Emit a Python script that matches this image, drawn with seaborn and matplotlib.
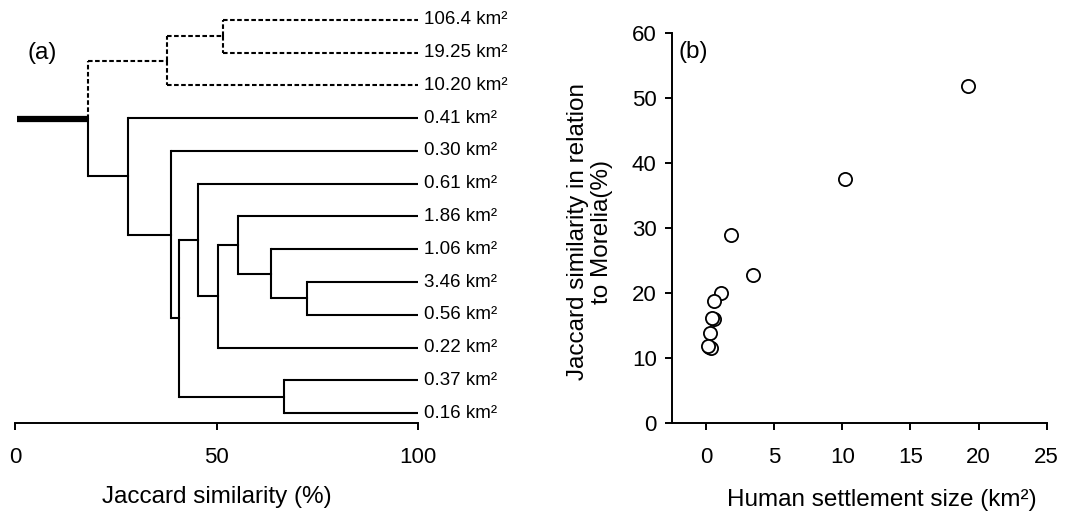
import numpy as np
import pandas as pd
import matplotlib
matplotlib.use("Agg")
import matplotlib.pyplot as plt
import seaborn as sns

# ---------------- Panel (a): dendrogram data ----------------
leaf_labels = ["106.4", "19.25", "10.20", "0.41", "0.30", "0.61", "1.86",
               "1.06", "3.46", "0.56", "0.22", "0.37", "0.16"]
# merges (node ids: leaves 0..12, merged nodes 13..24 in this order)
merge_a = [0, 13, 8, 7, 6, 17, 5, 11, 19, 4, 3, 14]
merge_b = [1, 2, 9, 15, 16, 10, 18, 12, 20, 21, 22, 23]
merge_sim = [51.5, 37.6, 72.5, 63.4, 55.4, 50.4, 45.3, 66.8, 40.7, 38.7, 28.0, 18.0]
dashed_members = [0, 1, 2, 13, 14]          # Morelia group (dashed links)
x_ticks_a = [0, 50, 100]

# ---------------- Panel (b): scatter data ----------------
settlement_size = [19.25, 10.20, 1.86, 3.46, 1.06, 0.61, 0.56, 0.41, 0.30, 0.22, 0.37, 0.16]
similarity_morelia = [51.8, 37.5, 28.9, 22.8, 20.0, 18.7, 16.0, 16.1, 13.8, 11.7, 11.6, 11.9]
x_ticks_b = [0, 5, 10, 15, 20, 25]
y_ticks_b = [0, 10, 20, 30, 40, 50, 60]

sns.set_theme(style="ticks")
plt.rcParams.update({
    "font.family": ["Liberation Sans", "DejaVu Sans"],
    "axes.edgecolor": "black",
    "xtick.color": "black",
    "ytick.color": "black",
    "text.color": "black",
    "axes.labelcolor": "black",
})

TICK_FS = 16
LABEL_FS = 17.5
LEAF_FS = 13.5

fig = plt.figure(figsize=(10.83, 5.14), dpi=100)
W, H = 1083, 514
ax1 = fig.add_axes([15 / W, 91 / H, 403 / W, 413 / H])
ax2 = fig.add_axes([672 / W, 91 / H, 374.7 / W, 390 / H])

# ---- build dendrogram coordinates ----
n = len(leaf_labels)
xpos = {i: 100.0 for i in range(n)}
ypos = {i: float(n - 1 - i) for i in range(n)}
for k, (a, b, s) in enumerate(zip(merge_a, merge_b, merge_sim)):
    node = n + k
    xpos[node] = s
    ypos[node] = (ypos[a] + ypos[b]) / 2.0

lw = 1.5
for k, (a, b, s) in enumerate(zip(merge_a, merge_b, merge_sim)):
    node = n + k
    for c in (a, b):
        ls = (0, (2.2, 1.2)) if c in dashed_members else "-"
        ax1.plot([xpos[node], xpos[c]], [ypos[c], ypos[c]], color="black",
                 lw=lw, linestyle=ls, solid_capstyle="butt", dash_capstyle="butt")
        ax1.plot([xpos[node], xpos[node]], [ypos[node], ypos[c]], color="black",
                 lw=lw, linestyle=ls, solid_capstyle="projecting", dash_capstyle="butt")

root = n + len(merge_sim) - 1
ax1.plot([0.4, xpos[root]], [ypos[root], ypos[root]], color="black", lw=4.5,
         solid_capstyle="butt")

for i, lab in enumerate(leaf_labels):
    ax1.text(101.5, ypos[i], lab + " km\u00b2", ha="left", va="center",
             fontsize=LEAF_FS, clip_on=False)

ax1.set_xlim(0, 100)
ax1.set_ylim(-0.305, 12.305)
ax1.set_xticks(x_ticks_a)
ax1.set_xticklabels([str(t) for t in x_ticks_a])
ax1.set_yticks([])
for sp in ("left", "top", "right"):
    ax1.spines[sp].set_visible(False)
ax1.spines["bottom"].set_linewidth(1.4)
ax1.tick_params(axis="x", direction="out", length=5, width=1.4, pad=12, labelsize=TICK_FS)
ax1.set_xlabel("Jaccard similarity (%)", fontsize=LABEL_FS, va="center")
ax1.xaxis.set_label_coords(0.5, -0.179)
ax1.text(0.067, 0.896, "(a)", transform=ax1.transAxes, ha="center", va="center",
         fontsize=LABEL_FS)
ax1.patch.set_alpha(0)

# ---- scatter ----
df = pd.DataFrame({"size": settlement_size, "sim": similarity_morelia})
sns.scatterplot(data=df, x="size", y="sim", ax=ax2, marker="o", s=90,
                color="white", edgecolor="black", linewidth=1.3, zorder=3,
                clip_on=False)
ax2.set_xlim(-2.5, 25)
ax2.set_ylim(0, 60)
ax2.set_xticks(x_ticks_b)
ax2.set_yticks(y_ticks_b)
for sp in ("top", "right"):
    ax2.spines[sp].set_visible(False)
for sp in ("left", "bottom"):
    ax2.spines[sp].set_linewidth(1.4)
ax2.tick_params(axis="x", direction="out", length=5, width=1.4, pad=12, labelsize=TICK_FS)
ax2.tick_params(axis="y", direction="out", length=5, width=1.4, pad=6, labelsize=TICK_FS)
ax2.set_xlabel("Human settlement size (km\u00b2)", fontsize=LABEL_FS, va="center")
ax2.xaxis.set_label_coords(0.560, -0.197)
ax2.set_ylabel("Jaccard similarity in relation\nto Morelia(%)", fontsize=LABEL_FS,
               va="center", ha="center", multialignment="center", linespacing=1.15)
ax2.yaxis.set_label_coords(-0.219, 0.491)
ax2.text(0.056, 0.951, "(b)", transform=ax2.transAxes, ha="center", va="center",
         fontsize=LABEL_FS)

fig.savefig("out.png", dpi=100)
